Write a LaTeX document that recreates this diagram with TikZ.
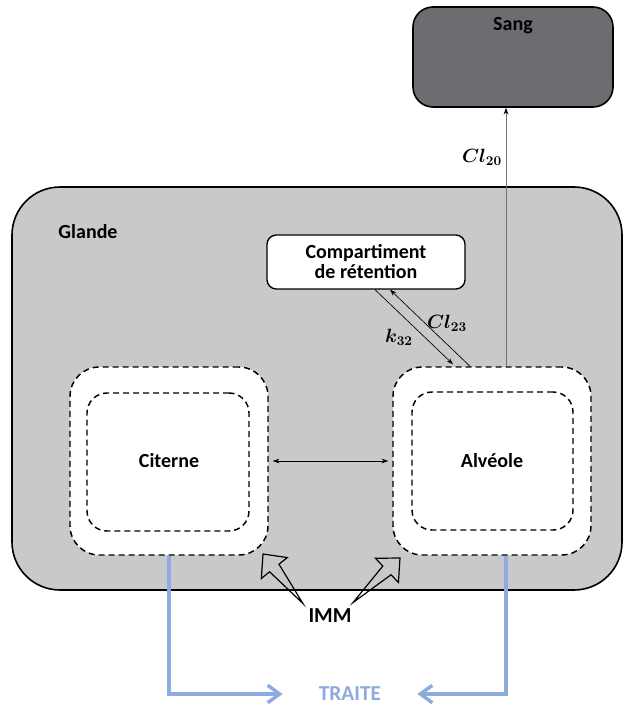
\documentclass[tikz,border=0pt]{standalone}
\usepackage{fontspec}
\setmainfont{Carlito}
\usepackage{bm}
\usetikzlibrary{calc,arrows.meta}
\definecolor{glandegris}{RGB}{200,201,203}
\definecolor{sanggris}{RGB}{107,109,112}
\definecolor{traitebleu}{RGB}{143,170,220}

\begin{document}
\begin{tikzpicture}[x=0.75pt, y=-0.75pt,
    box/.style={rectangle, draw, line width=1pt, align=center, font=\bfseries\fontsize{15}{15}\selectfont},
    poche/.style={rectangle, draw, dash pattern=on 4.5pt off 3pt, line width=1.1pt, font=\bfseries\fontsize{15}{17}\selectfont},
    txt/.style={font=\bfseries\fontsize{15}{17}\selectfont},
    flux/.style={font=\boldmath\fontsize{14}{16}\selectfont},
    arrow/.style={-{Stealth[length=5pt,width=3.5pt]}, line width=0.5pt},
    biarrow/.style={{Stealth[length=5pt,width=3.5pt]}-{Stealth[length=5pt,width=3.5pt]}, line width=0.5pt},
    traite/.style={-{Straight Barb[length=9pt,width=13pt]}, draw=traitebleu, line width=2.6pt, shorten >=27pt},
    imm/.style={line width=0.9pt, line join=miter}
]
    \useasboundingbox (0,0) rectangle (623,705);

    % Glande
    \node[box, fill=glandegris, rounded corners=36pt, line width=1.2pt, minimum width=457.5pt, minimum height=302.25pt] (glande) at (317,388.5) {};
    \node[txt] (glandetxt) at (88,232) {Glande};

    % Sang
    \node[box, fill=sanggris, rounded corners=15pt, line width=1.2pt, minimum width=150pt, minimum height=75pt,
          label={[txt, anchor=north, yshift=-5pt]north:Sang}] (sang) at (513,57) {};

    % Compartiment de retention
    \node[box, fill=white, rounded corners=7pt, minimum width=148.5pt, minimum height=40.5pt] (comp) at (366,262) {Compartiment\\de rétention};

    % Citerne et alveole
    \node[poche, fill=white, rounded corners=22pt, minimum width=148.5pt, minimum height=141pt] (citerne) at (169,461) {Citerne};
    \node[poche, rounded corners=15pt, minimum width=121.5pt, minimum height=103.5pt] (citernein) at (168,462) {};
    \node[poche, fill=white, rounded corners=22pt, minimum width=148.5pt, minimum height=141pt] (alveole) at (492,461) {Alvéole};
    \node[poche, rounded corners=15pt, minimum width=120.75pt, minimum height=103.5pt] (alveolein) at (492.5,461) {};

    % Echanges
    \draw[biarrow, shorten <=3pt, shorten >=3pt] (citerne.east) -- (alveole.west);
    \draw[arrow] ($(alveole.north)+(-22,0)$) -- ($(comp.south)+(24,0)$);
    \draw[arrow] ($(comp.south)+(9,0)$) -- ($(alveole.north)+(-39,-2)$);
    \node[flux] (k32) at (399,337) {$k_{32}$};
    \node[flux] (cl23) at (447,323) {$Cl_{23}$};

    \coordinate (cl20bas) at ($(alveole.north)+(14,0)$);
    \draw[arrow, draw=black!55, -{Stealth[length=5pt,width=3.5pt,black]}] (cl20bas) -- (cl20bas |- sang.south);
    \node[flux] (cl20) at (482,157) {$Cl_{20}$};

    % IMM
    \node[txt, font=\bfseries\fontsize{16}{18}\selectfont, inner sep=1pt] (imm) at (330,616) {IMM};
    \coordinate (immg) at (263,554);
    \coordinate (immd) at (400,558);
    \coordinate (immgq) at ($(imm.north west)+(-4,-4)$);
    \coordinate (immdq) at ($(imm.north east)+(0,-5)$);
    \coordinate (immgb) at ($(immg)!13.5pt!(immgq)$);
    \coordinate (immdb) at ($(immd)!13.5pt!(immdq)$);
    \draw[imm] (immgq) -- ($(immgb)!4.5pt!90:(immg)$) -- ($(immgb)!12.5pt!90:(immg)$) -- (immg)
        -- ($(immgb)!12.5pt!-90:(immg)$) -- ($(immgb)!4.5pt!-90:(immg)$) -- cycle;
    \draw[imm] (immdq) -- ($(immdb)!4.5pt!90:(immd)$) -- ($(immdb)!12.5pt!90:(immd)$) -- (immd)
        -- ($(immdb)!12.5pt!-90:(immd)$) -- ($(immdb)!4.5pt!-90:(immd)$) -- cycle;

    % Traite
    \node[txt, font=\bfseries\fontsize{16}{18}\selectfont, text=traitebleu, inner sep=0pt] (traitetxt) at (350,694) {TRAITE};
    \draw[traite] (citerne.south) |- (traitetxt.west);
    \draw[traite] ($(alveole.south)+(14,0)$) |- (traitetxt.east);
\end{tikzpicture}
\end{document}
